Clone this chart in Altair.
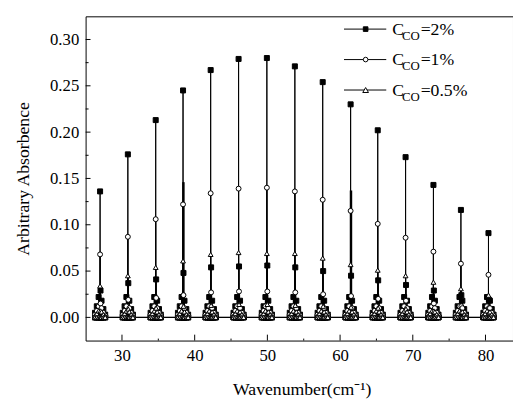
import altair as alt
import pandas as pd

FONT = "Liberation Serif"

# ---- data ----
line_pos = [26.99, 30.81, 34.64, 38.40, 42.20, 46.04, 49.93, 53.78, 57.61, 61.45, 65.18, 69.01, 72.84, 76.62, 80.41]
main_2 = [0.136, 0.176, 0.213, 0.245, 0.267, 0.279, 0.280, 0.271, 0.254, 0.230, 0.202, 0.173, 0.143, 0.116, 0.091]
main_1 = [0.068, 0.087, 0.106, 0.122, 0.134, 0.139, 0.140, 0.136, 0.127, 0.115, 0.101, 0.086, 0.071, 0.058, 0.046]
main_05 = [0.034, 0.045, 0.054, 0.061, 0.068, 0.070, 0.069, 0.069, 0.064, 0.057, 0.051, 0.045, 0.038, 0.031, 0.024]
sec_2 = [0.029, 0.037, 0.041, 0.048, 0.054, 0.055, 0.056, 0.054, 0.050, 0.045, 0.040, 0.035, 0.029, 0.024, 0.019]
sec_1 = [0.015, 0.019, 0.021, 0.024, 0.027, 0.028, 0.028, 0.027, 0.025, 0.023, 0.020, 0.018, 0.015, 0.012, 0.010]
sec_05 = [0.007, 0.009, 0.010, 0.012, 0.013, 0.014, 0.014, 0.013, 0.012, 0.011, 0.010, 0.009, 0.007, 0.006, 0.005]
sat_offsets = [-0.7, -0.45, -0.2, 0.2, 0.45, 0.7]
sat_2 = [0.005, 0.012, 0.022, 0.018, 0.009, 0.003]
sat_1 = [0.003, 0.007, 0.012, 0.010, 0.005, 0.002]
sat_05 = [0.002, 0.004, 0.007, 0.006, 0.003, 0.001]
sec_offset = 0.06
bold_x = [38.45, 61.50]
bold_top = [0.146, 0.137]

series_names = ["2%", "1%", "0.5%"]
series_main = [main_2, main_1, main_05]
series_sec = [sec_2, sec_1, sec_05]
series_sat = [sat_2, sat_1, sat_05]

x_ticks = [30, 40, 50, 60, 70, 80]
x_minor = [35, 45, 55, 65, 75]
y_ticks = [0.0, 0.05, 0.10, 0.15, 0.20, 0.25, 0.30]
y_minor = [0.025, 0.075, 0.125, 0.175, 0.225, 0.275]

# ---- build stick-spectrum table ----
rows = []
ordn = 0
for s, name in enumerate(series_names):
    for i, xp in enumerate(line_pos):
        sticks = [(xp + o, h) for o, h in zip(sat_offsets, series_sat[s])]
        sticks.append((xp, series_main[s][i]))
        sticks.append((xp + sec_offset, series_sec[s][i]))
        sticks.sort(key=lambda t: t[0])
        for sx, sh in sticks:
            for yy in (0.0, sh, 0.0):
                rows.append({"series": name, "x": sx, "y": yy, "ord": ordn})
                ordn += 1
df = pd.DataFrame(rows)

W, H = 435, 330
xscale = alt.Scale(domain=[25, 25 + W / 7.4], nice=False, zero=False)
yscale = alt.Scale(domain=[-0.025, 0.325], nice=False, zero=False)

xaxis = alt.Axis(values=x_ticks, format="d", title="Wavenumber(cm\u207b\u00b9)",
                 titleY=55, titleX=220)
yaxis = alt.Axis(values=y_ticks, format=".2f", title="Arbitrary Absorbence",
                 titleX=-58, titleY=165)

X = alt.X("x:Q", scale=xscale, axis=xaxis)
Y = alt.Y("y:Q", scale=yscale, axis=yaxis)

lines = alt.Chart(df).mark_line(color="black", strokeWidth=1).encode(
    x=X, y=Y, detail="series:N", order="ord:Q")

points = alt.Chart(df).mark_point(filled=True, stroke="black", strokeWidth=1, opacity=1).encode(
    x="x:Q", y="y:Q",
    shape=alt.Shape("series:N", scale=alt.Scale(domain=series_names, range=["square", "circle", "triangle-up"]), legend=None),
    fill=alt.Fill("series:N", scale=alt.Scale(domain=series_names, range=["black", "white", "white"]), legend=None),
    size=alt.Size("series:N", scale=alt.Scale(domain=series_names, range=[26, 24, 34]), legend=None),
)

bold = alt.Chart(pd.DataFrame({"x": bold_x, "y": bold_top})).mark_rule(color="black", strokeWidth=2.5).encode(
    x="x:Q", y="y:Q", y2=alt.datum(0))

xt = alt.Chart(pd.DataFrame({"x": x_ticks})).mark_rule(color="black").encode(
    x="x:Q", y=alt.value(H), y2=alt.value(H - 6))
xm = alt.Chart(pd.DataFrame({"x": x_minor})).mark_rule(color="black").encode(
    x="x:Q", y=alt.value(H), y2=alt.value(H - 2))
yt = alt.Chart(pd.DataFrame({"y": y_ticks})).mark_rule(color="black").encode(
    y="y:Q", x=alt.value(0), x2=alt.value(5))
ym = alt.Chart(pd.DataFrame({"y": y_minor})).mark_rule(color="black").encode(
    y="y:Q", x=alt.value(0), x2=alt.value(3))

# ---- legend (manual, for subscripts) ----
one = pd.DataFrame({"a": [0]})
legend_layers = []
leg_shapes = ["square", "circle", "triangle-up"]
leg_fills = ["black", "white", "white"]
leg_sizes = [22, 22, 34]
leg_labels = ["=2%", "=1%", "=0.5%"]
for r in range(3):
    ry = 13 + r * 31
    legend_layers.append(alt.Chart(one).mark_rule(color="black", strokeWidth=1).encode(
        x=alt.value(263), x2=alt.value(306), y=alt.value(ry)))
    legend_layers.append(alt.Chart(one).mark_point(filled=True, stroke="black", strokeWidth=1, opacity=1,
                                                   shape=leg_shapes[r], fill=leg_fills[r], size=leg_sizes[r]).encode(
        x=alt.value(285), y=alt.value(ry)))
    legend_layers.append(alt.Chart(one).mark_text(align="left", baseline="alphabetic", font=FONT, fontSize=18, color="black").encode(
        x=alt.value(312), y=alt.value(ry + 6), text=alt.value("C")))
    legend_layers.append(alt.Chart(one).mark_text(align="left", baseline="alphabetic", font=FONT, fontSize=13, color="black").encode(
        x=alt.value(322), y=alt.value(ry + 11), text=alt.value("CO")))
    legend_layers.append(alt.Chart(one).mark_text(align="left", baseline="alphabetic", font=FONT, fontSize=18, color="black").encode(
        x=alt.value(341), y=alt.value(ry + 6), text=alt.value(leg_labels[r])))

chart = alt.layer(lines, bold, points, xt, xm, yt, ym, *legend_layers).properties(
    width=W, height=H,
    autosize=alt.AutoSizeParams(type="none"),
    padding={"left": 79, "top": 5, "right": 0, "bottom": 56},
    background="white",
).configure_view(stroke="black", strokeWidth=1).configure_axis(
    ticks=False, domain=False, grid=False, labelPadding=7,
    labelFont=FONT, labelFontSize=17, labelColor="black",
    titleFont=FONT, titleFontSize=18, titleFontWeight="normal", titleColor="black",
    titleBaseline="alphabetic",
)

chart.save("out.html", embed_options={"renderer": "svg", "actions": False})
